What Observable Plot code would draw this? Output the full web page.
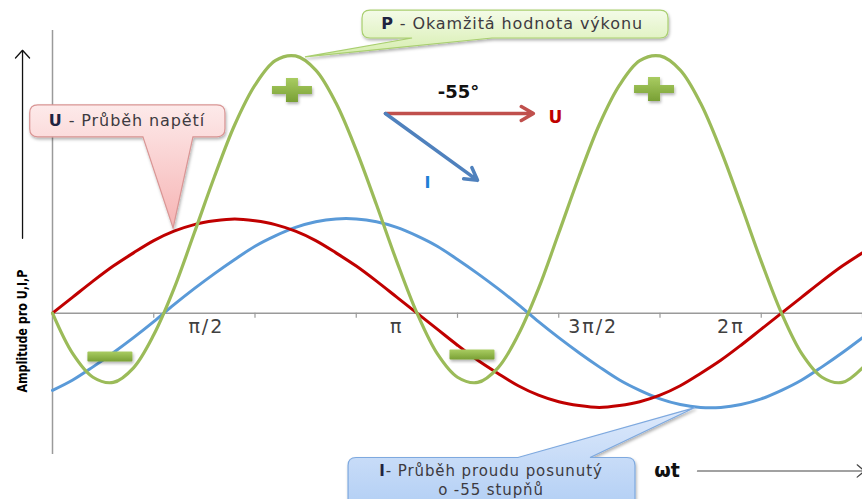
<!DOCTYPE html>
<html><head><meta charset="utf-8">
<script src="https://cdn.jsdelivr.net/npm/d3@7"></script>
<script src="https://cdn.jsdelivr.net/npm/@observablehq/plot@0.6"></script>
<style>
body{margin:0;background:#fff;}
#chart svg{display:block;overflow:visible;}
</style>
</head><body><div id="chart"></div>
<script>
// Phase angle samples (degrees, ωt)
const deg = [0,10,20,30,40,50,60,70,80,90,100,110,120,130,140,150,160,170,180,190,200,210,220,230,240,250,260,270,280,290,300,310,320,330,340,350,360,370,380,390,400];
// U – voltage
const uValues = [0,0.17,0.34,0.5,0.64,0.77,0.87,0.94,0.98,1,0.98,0.94,0.87,0.77,0.64,0.5,0.34,0.17,0,-0.17,-0.34,-0.5,-0.64,-0.77,-0.87,-0.94,-0.98,-1,-0.98,-0.94,-0.87,-0.77,-0.64,-0.5,-0.34,-0.17,0,0.17,0.34,0.5,0.64];
// I – current shifted by -55°
const iValues = [-0.82,-0.71,-0.57,-0.42,-0.26,-0.09,0.09,0.26,0.42,0.57,0.71,0.82,0.91,0.97,1,1,0.97,0.91,0.82,0.71,0.57,0.42,0.26,0.09,-0.09,-0.26,-0.42,-0.57,-0.71,-0.82,-0.91,-0.97,-1,-1,-0.97,-0.91,-0.82,-0.71,-0.57,-0.42,-0.26];
// P – instantaneous power
const pValues = [0,-0.43,-0.68,-0.735,-0.58,-0.23,0.26,0.85,1.45,2.0,2.42,2.68,2.73,2.58,2.23,1.73,1.15,0.55,0,-0.43,-0.68,-0.735,-0.58,-0.23,0.26,0.85,1.45,2.0,2.42,2.68,2.73,2.58,2.23,1.73,1.15,0.55,0,-0.43,-0.68,-0.735,-0.58];
// Axis ticks and labels
const tickDeg = [50,100,150,200,250,300,350,400];
const tickLabels = ["π/2","π","3π/2","2π"];
const tickLabelDeg = [76,170,267,335];

const rows = deg.map((d,k)=>({deg:d,u:uValues[k],i:iValues[k],p:pValues[k]}));
const ticks = tickDeg.map(d=>({deg:d}));
const labels = tickLabels.map((t,k)=>({t, deg:tickLabelDeg[k]}));

// annotation layout (data units)
const ann = {
  yAxisArrow:{x:-14.8,y1:0.795,y2:2.79},
  yLabel:{x:-14.8,y:-0.19,text:"Amplitude pro U,I,P"},
  wtText:{x:303.5,y:-1.675,text:"ωt"},
  wtArrow:{x1:318.5,x2:401,y:-1.675},
  phasorOrigin:{x:164.4,y:2.119},
  phasorU:{x:237.5,y:2.119},
  phasorI:{x:209.9,y:1.41},
  angleText:{x:200.5,y:2.343,text:"-55°"},
  uText:{x:248.4,y:2.08,text:"U"},
  iText:{x:185.2,y:1.38,text:"I"},
  plus:[[118.5,2.364],[297.3,2.375]],
  minus:[[28.6,-0.466],[207.4,-0.445]],
  boxes:[
    {x1:-11,x2:85.4,y1:2.205,y2:1.866,base:[44.9,69.6],tip:[59.8,0.90],side:"bottom",grad:"gU",stroke:"#d99594",size:16,
     lines:[{x:37,y:2.035,bold:"U",rest:" - Průběh napětí"}]},
    {x1:153.1,x2:304.2,y1:3.21,y2:2.915,base:[177.8,217.3],tip:[124.9,2.714],side:"bottom",grad:"gP",stroke:"#a9cf6f",size:16,
     lines:[{x:227.2,y:3.064,bold:"P",rest:" - Okamžitá hodnota výkonu"}]},
    {x1:146.2,x2:287.9,y1:-1.537,y2:-2.3,base:[230.1,265.7],tip:[317.5,-1.007],side:"top",grad:"gI",stroke:"#7ea9df",size:15,
     lines:[{x:216.8,y:-1.683,bold:"I",rest:"- Průběh proudu posunutý"},{x:216.8,y:-1.878,bold:"",rest:"o -55 stupňů"}]}
  ]
};

const plot = Plot.plot({
  width:862, height:499,
  marginLeft:52, marginRight:0, marginTop:30, marginBottom:45,
  x:{domain:[0,400], axis:null},
  y:{domain:[-1.5,3], axis:null},
  style:{background:"transparent", overflow:"visible"},
  marks:[
    Plot.ruleX([0],{y1:-1.5,y2:3,stroke:"#9a9a9a",strokeWidth:1.5,strokeOpacity:1}),
    Plot.ruleY([0],{stroke:"#9a9a9a",strokeWidth:1.5,strokeOpacity:1}),
    Plot.ruleX(ticks,{x:"deg",y1:0,y2:-0.055,stroke:"#9a9a9a",strokeWidth:1.2,strokeOpacity:1}),
    Plot.text(labels,{x:"deg",y:-0.15,text:"t",fontSize:19,fill:"#404040",fontFamily:"DejaVu Sans",className:"ticklab"}),
    Plot.line(rows,{x:"deg",y:"i",stroke:"#5a9ad8",strokeWidth:3,curve:"catmull-rom"}),
    Plot.line(rows,{x:"deg",y:"u",stroke:"#c00000",strokeWidth:3,curve:"catmull-rom"}),
    Plot.line(rows,{x:"deg",y:"p",stroke:"#9bbb59",strokeWidth:3.2,curve:"catmull-rom"}),
    // axis arrows
    Plot.arrow([ann.yAxisArrow],{x1:"x",x2:"x",y1:"y1",y2:"y2",stroke:"#111",strokeWidth:1.3,headLength:12,headAngle:85}),
    Plot.arrow([ann.wtArrow],{x1:"x1",x2:"x2",y1:"y",y2:"y",stroke:"#444",strokeWidth:1.2,headLength:12,headAngle:80}),
    Plot.text([ann.yLabel],{x:"x",y:"y",text:"text",rotate:-90,fontSize:14,fontWeight:"bold",fill:"#000",fontFamily:"Liberation Sans Narrow, DejaVu Sans Condensed, sans-serif",className:"ylab"}),
    Plot.text([ann.wtText],{x:"x",y:"y",text:"text",fontSize:19,fontWeight:"bold",fill:"#111",fontFamily:"DejaVu Sans"}),
    // phasor diagram
    Plot.arrow([{a:ann.phasorOrigin,b:ann.phasorU}],{x1:d=>d.a.x,y1:d=>d.a.y,x2:d=>d.b.x,y2:d=>d.b.y,stroke:"#c0504d",strokeWidth:3.5,headLength:6,headAngle:60}),
    Plot.arrow([{a:ann.phasorOrigin,b:ann.phasorI}],{x1:d=>d.a.x,y1:d=>d.a.y,x2:d=>d.b.x,y2:d=>d.b.y,stroke:"#4f81bd",strokeWidth:3.5,headLength:6,headAngle:60}),
    Plot.text([ann.angleText],{x:"x",y:"y",text:"text",fontSize:18,fontWeight:"bold",fill:"#111",fontFamily:"DejaVu Sans"}),
    Plot.text([ann.uText],{x:"x",y:"y",text:"text",fontSize:17,fontWeight:"bold",fill:"#c00000",fontFamily:"DejaVu Sans"}),
    Plot.text([ann.iText],{x:"x",y:"y",text:"text",fontSize:16,fontWeight:"bold",fill:"#1f7fd6",fontFamily:"DejaVu Sans"})
  ]
});
document.getElementById("chart").appendChild(plot);

// text spacing tweaks
d3.select(plot).selectAll(".ticklab text").attr("letter-spacing","2px");
d3.select(plot).selectAll(".ylab text").attr("textLength",123).attr("lengthAdjust","spacingAndGlyphs");

// decorations using the plot's own scales
const sx = plot.scale("x"), sy = plot.scale("y");
const X = (sx && sx.apply) ? v=>sx.apply(v) : d3.scaleLinear([0,400],[52,862]);
const Y = (sy && sy.apply) ? v=>sy.apply(v) : d3.scaleLinear([-1.5,3],[454,30]);

const svg = d3.select(plot);
const defs = svg.append("defs");
function grad(id, top, bottom){
  const g = defs.append("linearGradient").attr("id",id).attr("x1",0).attr("y1",0).attr("x2",0).attr("y2",1);
  g.append("stop").attr("offset","0%").attr("stop-color",top);
  g.append("stop").attr("offset","100%").attr("stop-color",bottom);
}
grad("gU","#fdeaea","#f6b4b4");
grad("gP","#f4fbe8","#d5edac");
grad("gI","#dde9fb","#a9c9f3");
grad("gG","#a9cc62","#79a035");
const f = defs.append("filter").attr("id","sh").attr("x","-20%").attr("y","-20%").attr("width","150%").attr("height","160%");
f.append("feDropShadow").attr("dx",1).attr("dy",2).attr("stdDeviation",1.5).attr("flood-color","#000").attr("flood-opacity",0.3);

const deco = svg.append("g");
// plus and minus signs
ann.plus.forEach(([px,py])=>{
  const cx=X(px), cy=Y(py);
  const p = `M${cx-20},${cy-4}H${cx-6}V${cy-12}H${cx+6}V${cy-4}H${cx+20}V${cy+4}H${cx+6}V${cy+12}H${cx-6}V${cy+4}H${cx-20}Z`;
  deco.append("path").attr("d",p).attr("fill","url(#gG)").attr("filter","url(#sh)");
});
ann.minus.forEach(([px,py])=>{
  const cx=X(px), cy=Y(py);
  deco.append("rect").attr("x",cx-22.5).attr("y",cy-5).attr("width",45).attr("height",10).attr("rx",1).attr("fill","url(#gG)").attr("filter","url(#sh)");
});
// callouts
ann.boxes.forEach(b=>{
  const x1=X(b.x1), x2=X(b.x2), y1=Y(b.y1), y2=Y(b.y2), r=8;
  const b0=X(b.base[0]), b1=X(b.base[1]), tx=X(b.tip[0]), ty=Y(b.tip[1]);
  let d;
  if (b.side==="bottom") {
    d = `M${x1+r},${y1}H${x2-r}Q${x2},${y1} ${x2},${y1+r}V${y2-r}Q${x2},${y2} ${x2-r},${y2}H${b1}L${tx},${ty}L${b0},${y2}H${x1+r}Q${x1},${y2} ${x1},${y2-r}V${y1+r}Q${x1},${y1} ${x1+r},${y1}Z`;
  } else {
    d = `M${x1+r},${y1}H${b0}L${tx},${ty}L${b1},${y1}H${x2-r}Q${x2},${y1} ${x2},${y1+r}V${y2-r}Q${x2},${y2} ${x2-r},${y2}H${x1+r}Q${x1},${y2} ${x1},${y2-r}V${y1+r}Q${x1},${y1} ${x1+r},${y1}Z`;
  }
  deco.append("path").attr("d",d).attr("fill",`url(#${b.grad})`).attr("stroke",b.stroke).attr("stroke-width",1.2).attr("filter","url(#sh)");
  b.lines.forEach(l=>{
    const t = deco.append("text").attr("x",X(l.x)).attr("y",Y(l.y)).attr("text-anchor","middle").attr("dominant-baseline","middle")
      .attr("font-family","DejaVu Sans").attr("font-size",b.size).attr("letter-spacing","0.9px").attr("fill","#3d3a40");
    if (l.bold) t.append("tspan").attr("font-weight","bold").attr("fill","#1f2340").text(l.bold);
    t.append("tspan").text(l.rest);
  });
});
</script>
</body></html>
